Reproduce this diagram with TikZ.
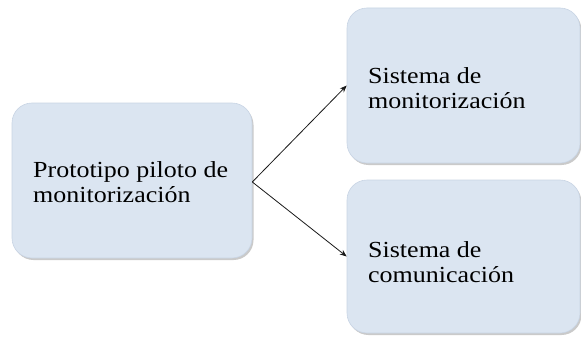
\documentclass[tikz,border=0pt]{standalone}
\usepackage{fontspec}
\setmainfont{Liberation Serif}[FakeStretch=1.13]
\usetikzlibrary{arrows.meta,shadows}
\definecolor{boxfill}{RGB}{219,229,241}
\definecolor{boxedge}{RGB}{200,212,228}
\tikzset{
  card/.style={rectangle, rounded corners=20pt, fill=boxfill, draw=boxedge, line width=0.6pt,
    drop shadow={shadow xshift=1.5pt, shadow yshift=-2pt, fill=black!35, opacity=0.6},
    inner sep=0pt},
  label text/.style={anchor=west, align=left, font=\fontsize{23}{24.5}\selectfont, text=black, inner sep=0pt},
  link/.style={-{Stealth[length=7pt,width=5.5pt]}, line width=0.8pt, black!90}
}
\begin{document}
\begin{tikzpicture}[x=1pt,y=-1pt]
\useasboundingbox (0,0) rectangle (581,337);
\node[card, minimum width=240pt, minimum height=155pt] (proto) at (132,180.5) {};
\node[card, minimum width=233pt, minimum height=155pt] (mon) at (463.5,85.5) {};
\node[card, minimum width=233pt, minimum height=153pt] (com) at (463.5,256.5) {};
\node[label text] (protot) at (33,182) {Prototipo piloto de\\monitorización};
\node[label text] (mont) at (368,88) {Sistema de\\monitorización};
\node[label text] (comt) at (368,262) {Sistema de\\comunicación};
\coordinate (fork) at ([yshift=-1.5pt]proto.east);
\draw[link] (fork) -- (mon.west);
\draw[link] (fork) -- (com.west);
\end{tikzpicture}
\end{document}
